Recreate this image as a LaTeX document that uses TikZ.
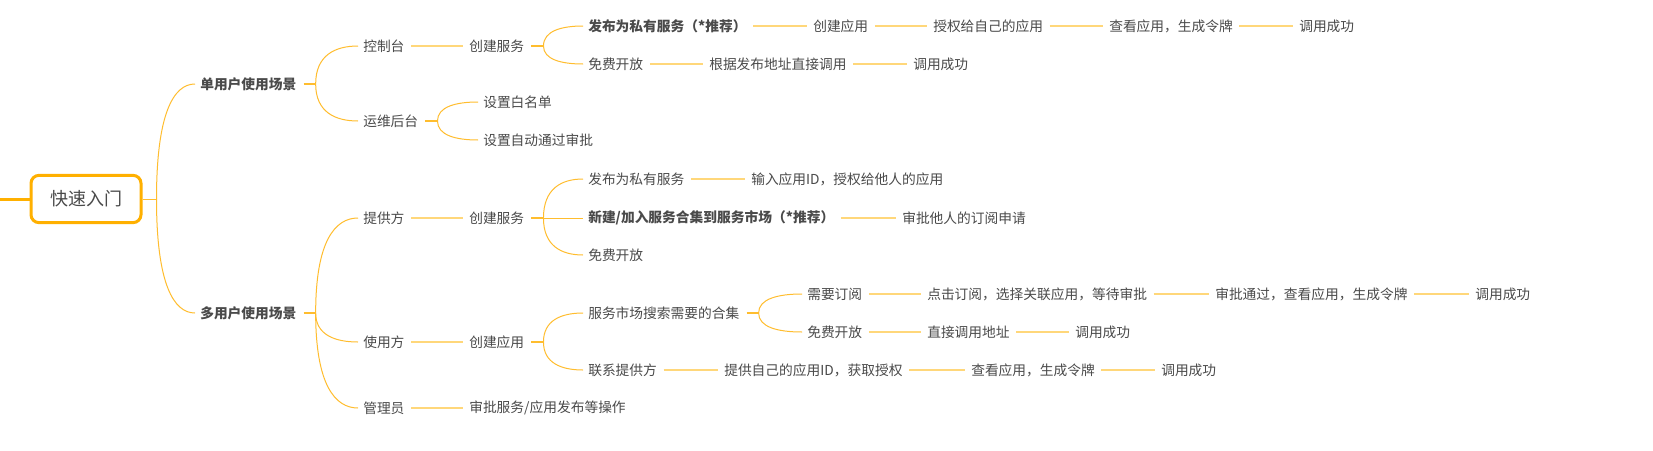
\documentclass[tikz,border=0pt]{standalone}
\usepackage{fontspec}
\newfontfamily\cjk{Noto Sans CJK SC}
\usetikzlibrary{calc}
\definecolor{curveC}{HTML}{FFBD2E}
\definecolor{lineC}{HTML}{FFD77A}
\definecolor{rootC}{HTML}{FFB000}
\definecolor{txtC}{HTML}{4A4A4A}
\newcommand\mmcurve[2]{%
  \path ($(#2.west)+(-5,0)$) coordinate (tmpin);
  \draw[crv] (#1) .. controls ($(#1)!0.75!(#1|-tmpin)$) and ($(tmpin)!0.55!(#1|-tmpin)$) .. (tmpin);}
\newcommand\mmstraight[2]{\draw[crv] (#1) -- ($(#2.west)+(-5,0)$);}
\newcommand\mmstub[2]{\draw[stub] ($(#1.east)+(7,0)$) -- ($(#1.east)+(19,0)$) coordinate (#2);}
\begin{document}
\begin{tikzpicture}[x=0.75pt,y=-0.75pt,
  lbl/.style={anchor=west,inner sep=0pt,font=\cjk\fontsize{10.3}{12}\selectfont,text=txtC},
  blbl/.style={lbl,font=\cjk\bfseries\fontsize{10.3}{12}\selectfont},
  link/.style={draw=lineC,line width=1.5pt,shorten <=4.75pt,shorten >=4.75pt},
  stub/.style={draw=curveC,line width=1.5pt},
  crv/.style={draw=curveC,line width=0.75pt},
  rootbox/.style={draw=rootC,line width=2.25pt,rounded corners=6pt,fill=white,
    minimum width=82.5pt,minimum height=35.5pt,inner sep=0pt,text=txtC,
    font=\cjk\fontsize{13.5}{16}\selectfont}
]
\useasboundingbox[fill=white] (0,0) rectangle (1653,450);
% root
\node[rootbox] (root) at (86,199) {快速入门};
\coordinate (leftend) at (0,199);
\draw[draw=rootC,line width=2.25pt] (leftend) -- (root.west);
\draw[crv] (root.east) -- ++(14,0) coordinate (rootS);
% level 1
\node[blbl] (s1) at (200,84) {单用户使用场景};
\node[blbl] (s2) at (200,313) {多用户使用场景};
% level 2
\node[lbl] (k1) at (363,46) {控制台};
\node[lbl] (k2) at (363,121) {运维后台};
\node[lbl] (k3) at (363,218) {提供方};
\node[lbl] (k4) at (363,342) {使用方};
\node[lbl] (k5) at (363,408) {管理员};
% level 3
\node[lbl] (c1) at (469,46) {创建服务};
\node[lbl] (w1) at (483,102) {设置白名单};
\node[lbl] (w2) at (483,140) {设置自动通过审批};
\node[lbl] (c2) at (469,218) {创建服务};
\node[lbl] (c3) at (469,342) {创建应用};
\node[lbl] (g1) at (469,408) {审批服务/应用发布等操作};
% rows
\node[blbl] (r1a) at (588,26) {发布为私有服务（*推荐）};
\node[lbl] (r1b) at (813,26) {创建应用};
\node[lbl] (r1c) at (933,26) {授权给自己的应用};
\node[lbl] (r1d) at (1109,26) {查看应用，生成令牌};
\node[lbl] (r1e) at (1299,26) {调用成功};
\node[lbl] (r2a) at (588,64) {免费开放};
\node[lbl] (r2b) at (709,64) {根据发布地址直接调用};
\node[lbl] (r2c) at (913,64) {调用成功};
\node[lbl] (r3a) at (588,179) {发布为私有服务};
\node[lbl] (r3b) at (751,179) {输入应用ID，授权给他人的应用};
\node[blbl] (r4a) at (588,218) {新建/加入服务合集到服务市场（*推荐）};
\node[lbl] (r4b) at (902,218) {审批他人的订阅申请};
\node[lbl] (r5a) at (588,255) {免费开放};
\node[lbl] (r6a) at (588,313) {服务市场搜索需要的合集};
\node[lbl] (r7a) at (807,294) {需要订阅};
\node[lbl] (r7b) at (927,294) {点击订阅，选择关联应用，等待审批};
\node[lbl] (r7c) at (1215,294) {审批通过，查看应用，生成令牌};
\node[lbl] (r7d) at (1475,294) {调用成功};
\node[lbl] (r8a) at (807,332) {免费开放};
\node[lbl] (r8b) at (927,332) {直接调用地址};
\node[lbl] (r8c) at (1075,332) {调用成功};
\node[lbl] (r9a) at (588,370) {联系提供方};
\node[lbl] (r9b) at (724,370) {提供自己的应用ID，获取授权};
\node[lbl] (r9c) at (971,370) {查看应用，生成令牌};
\node[lbl] (r9d) at (1161,370) {调用成功};
% root curves
\mmcurve{rootS}{s1}
\mmcurve{rootS}{s2}
% s1 branch
\mmstub{s1}{s1S}
\mmcurve{s1S}{k1}
\mmcurve{s1S}{k2}
\draw[link] (k1) -- (c1);
\mmstub{c1}{c1S}
\mmcurve{c1S}{r1a}
\mmcurve{c1S}{r2a}
\mmstub{k2}{k2S}
\mmcurve{k2S}{w1}
\mmcurve{k2S}{w2}
\draw[link] (r1a) -- (r1b);
\draw[link] (r1b) -- (r1c);
\draw[link] (r1c) -- (r1d);
\draw[link] (r1d) -- (r1e);
\draw[link] (r2a) -- (r2b);
\draw[link] (r2b) -- (r2c);
% s2 branch
\mmstub{s2}{s2S}
\mmcurve{s2S}{k3}
\mmcurve{s2S}{k4}
\mmcurve{s2S}{k5}
\draw[link] (k3) -- (c2);
\draw[link] (k4) -- (c3);
\draw[link] (k5) -- (g1);
\mmstub{c2}{c2S}
\mmcurve{c2S}{r3a}
\mmstraight{c2S}{r4a}
\mmcurve{c2S}{r5a}
\draw[link] (r3a) -- (r3b);
\draw[link] (r4a) -- (r4b);
\mmstub{c3}{c3S}
\mmcurve{c3S}{r6a}
\mmcurve{c3S}{r9a}
\mmstub{r6a}{r6S}
\mmcurve{r6S}{r7a}
\mmcurve{r6S}{r8a}
\draw[link] (r7a) -- (r7b);
\draw[link] (r7b) -- (r7c);
\draw[link] (r7c) -- (r7d);
\draw[link] (r8a) -- (r8b);
\draw[link] (r8b) -- (r8c);
\draw[link] (r9a) -- (r9b);
\draw[link] (r9b) -- (r9c);
\draw[link] (r9c) -- (r9d);
\end{tikzpicture}
\end{document}
